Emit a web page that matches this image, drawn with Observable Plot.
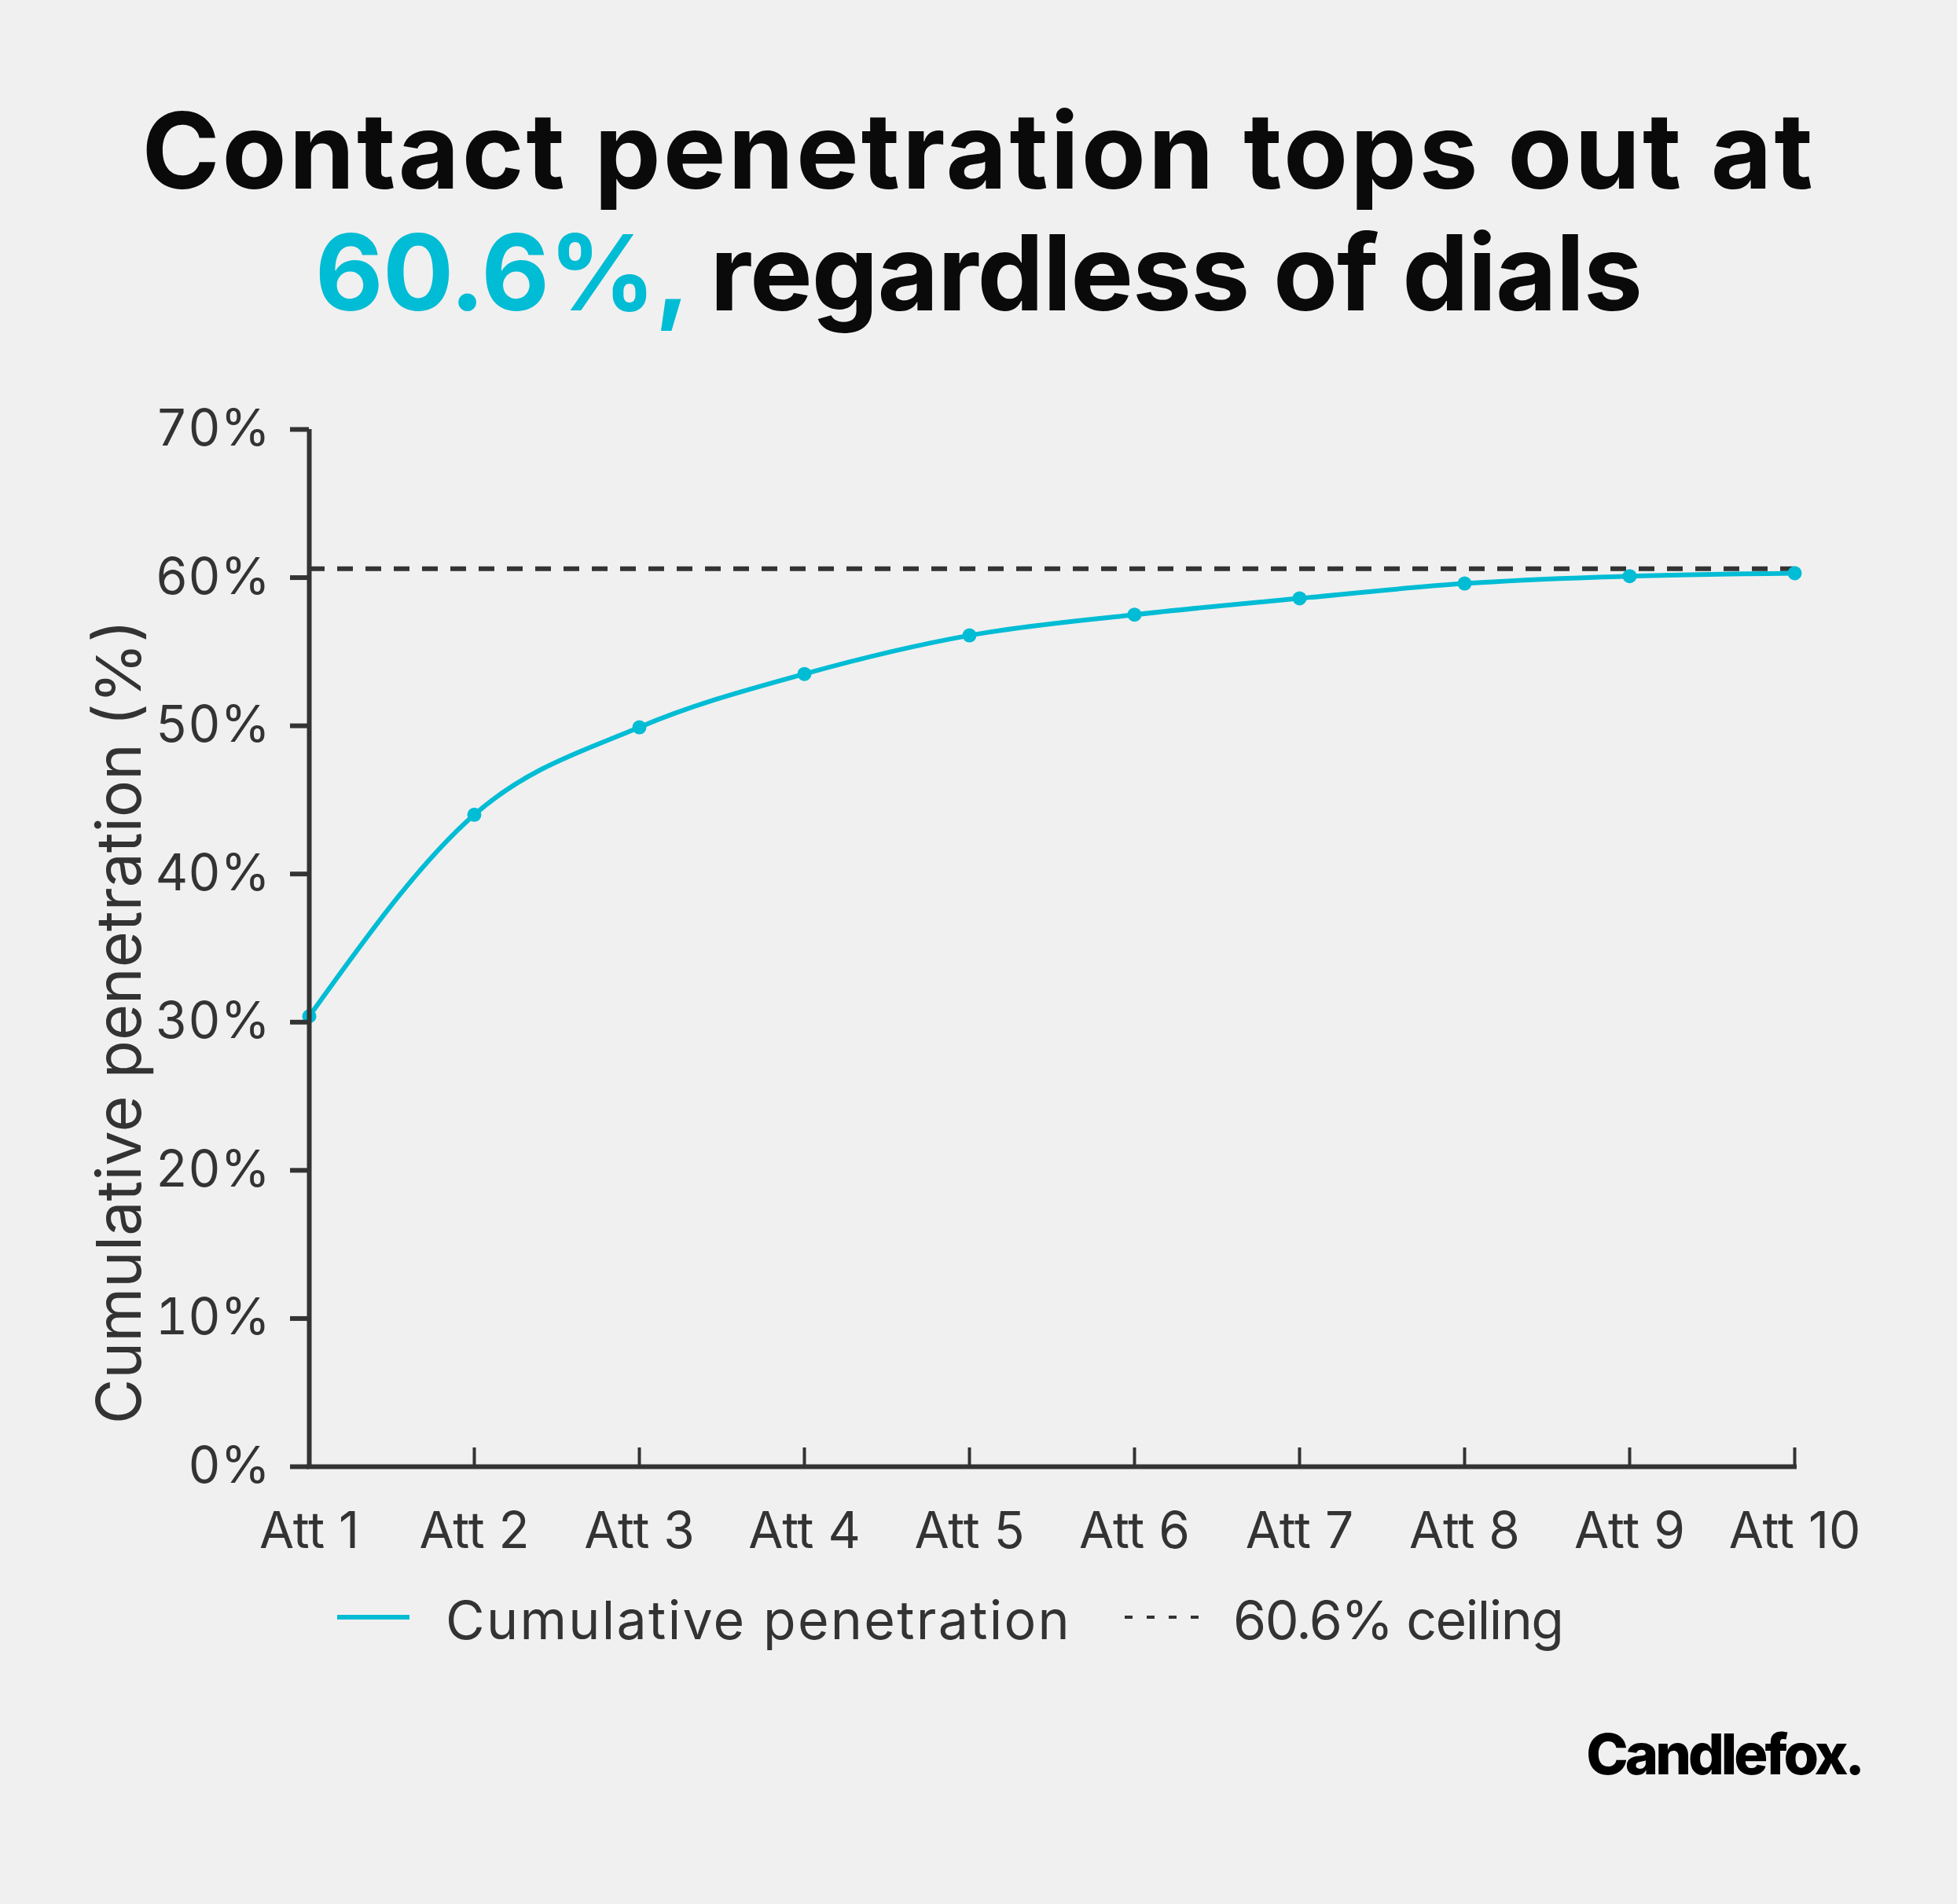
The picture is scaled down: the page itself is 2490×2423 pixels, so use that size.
<!DOCTYPE html>
<html><head><meta charset="utf-8">
<script src="https://cdn.jsdelivr.net/npm/d3@7"></script>
<script src="https://cdn.jsdelivr.net/npm/@observablehq/plot@0.6"></script>
<style>
html,body{margin:0;padding:0;background:#f0f0f0;}
body{width:2490px;height:2423px;position:relative;overflow:hidden;font-family:Inter,"Noto Sans",sans-serif;}
.abs{position:absolute;white-space:nowrap;line-height:1;}
#chart{position:absolute;left:0;top:480px;}
</style></head><body>
<div class="abs" id="t1" style="left:0;width:2490px;text-align:center;top:124px;font-size:134px;font-weight:700;letter-spacing:3px;color:#0a0a0a;"></div>
<div class="abs" id="t2" style="left:0;width:2490px;text-align:center;top:279px;font-size:134px;font-weight:700;letter-spacing:-1px;color:#0a0a0a;"></div>
<div id="chart"></div>
<div id="legend"></div>
<div class="abs" id="logo" style="right:121px;top:2196px;font-size:72px;font-weight:800;letter-spacing:-4px;color:#000;"></div>
<script>
// ---- data ----
const attempts = ["Att 1","Att 2","Att 3","Att 4","Att 5","Att 6","Att 7","Att 8","Att 9","Att 10"];
const penetration = [30.4, 44.0, 49.9, 53.5, 56.1, 57.5, 58.6, 59.6, 60.1, 60.3];
const ceiling = 60.6;
const yTicks = [0, 10, 20, 30, 40, 50, 60, 70];
const seriesLabels = ["Cumulative penetration", "60.6% ceiling"];
const yLabel = "Cumulative penetration (%)";
const titleLine1 = "Contact penetration tops out at";
const titleHighlight = "60.6%,";
const titleLine2 = " regardless of dials";
const brand = "Candlefox.";

const cyan = "#00bcd4";
const ink = "#333333";

document.getElementById("t1").textContent = titleLine1;
const t2 = document.getElementById("t2");
const hl = document.createElement("span");
hl.style.color = cyan;
hl.textContent = titleHighlight;
t2.appendChild(hl);
t2.appendChild(document.createTextNode(titleLine2));
document.getElementById("logo").textContent = brand;

const data = attempts.map((a, i) => ({attempt: a, value: penetration[i]}));

const W = 2490, H = 1520, mL = 393, mR = 207, mT = 66, mB = 134;
const plotH = H - mT - mB;

const chart = Plot.plot({
  width: W, height: H,
  marginLeft: mL, marginRight: mR, marginTop: mT, marginBottom: mB,
  style: {background: "transparent", fontFamily: "Inter, 'Noto Sans', sans-serif", fontSize: "64px", color: ink, overflow: "visible"},
  x: {type: "point", domain: attempts, padding: 0},
  y: {domain: [0, 70]},
  marks: [
    Plot.ruleY([ceiling], {stroke: ink, strokeWidth: 6, strokeDasharray: "20,16"}),
    Plot.line(data, {x: "attempt", y: "value", stroke: cyan, strokeWidth: 6, curve: "monotone-x"}),
    Plot.dot(data, {x: "attempt", y: "value", r: 9, fill: cyan, stroke: "none"}),
    Plot.axisY({ticks: yTicks, tickSize: 24, tickPadding: 26, tickFormat: d => d + "%", strokeWidth: 6, color: ink, fontSize: 64, label: null}),
    Plot.axisX({tickSize: 0, tickPadding: 58, color: ink, fontSize: 64, label: null}),
    Plot.ruleX(attempts.slice(1), {stroke: ink, strokeWidth: 4, insetTop: plotH - 24}),
    Plot.ruleX([attempts[0]], {stroke: ink, strokeWidth: 6}),
    Plot.ruleY([0], {stroke: ink, strokeWidth: 6, strokeLinecap: "square"}),
    Plot.text([yLabel], {frameAnchor: "left", rotate: -90, dx: -215, dy: 94, lineAnchor: "bottom", textAnchor: "middle", fontSize: 79, letterSpacing: 1.5, fill: ink})
  ]
});
document.getElementById("chart").appendChild(chart);

// ---- legend ----
const legend = document.getElementById("legend");
legend.innerHTML = `
<svg class="abs" style="left:429px;top:2052px" width="92" height="12"><line x1="0" x2="92" y1="6" y2="6" stroke="${cyan}" stroke-width="6"/></svg>
<div class="abs" style="left:567px;top:2027px;font-size:68px;letter-spacing:2.3px;color:${ink}">${seriesLabels[0]}</div>
<svg class="abs" style="left:1431px;top:2053px" width="94" height="10"><line x1="0" x2="94" y1="5" y2="5" stroke="${ink}" stroke-width="4" stroke-dasharray="10,18"/></svg>
<div class="abs" style="left:1569px;top:2027px;font-size:68px;letter-spacing:-1.5px;color:${ink}">${seriesLabels[1]}</div>`;
</script>
</body></html>
